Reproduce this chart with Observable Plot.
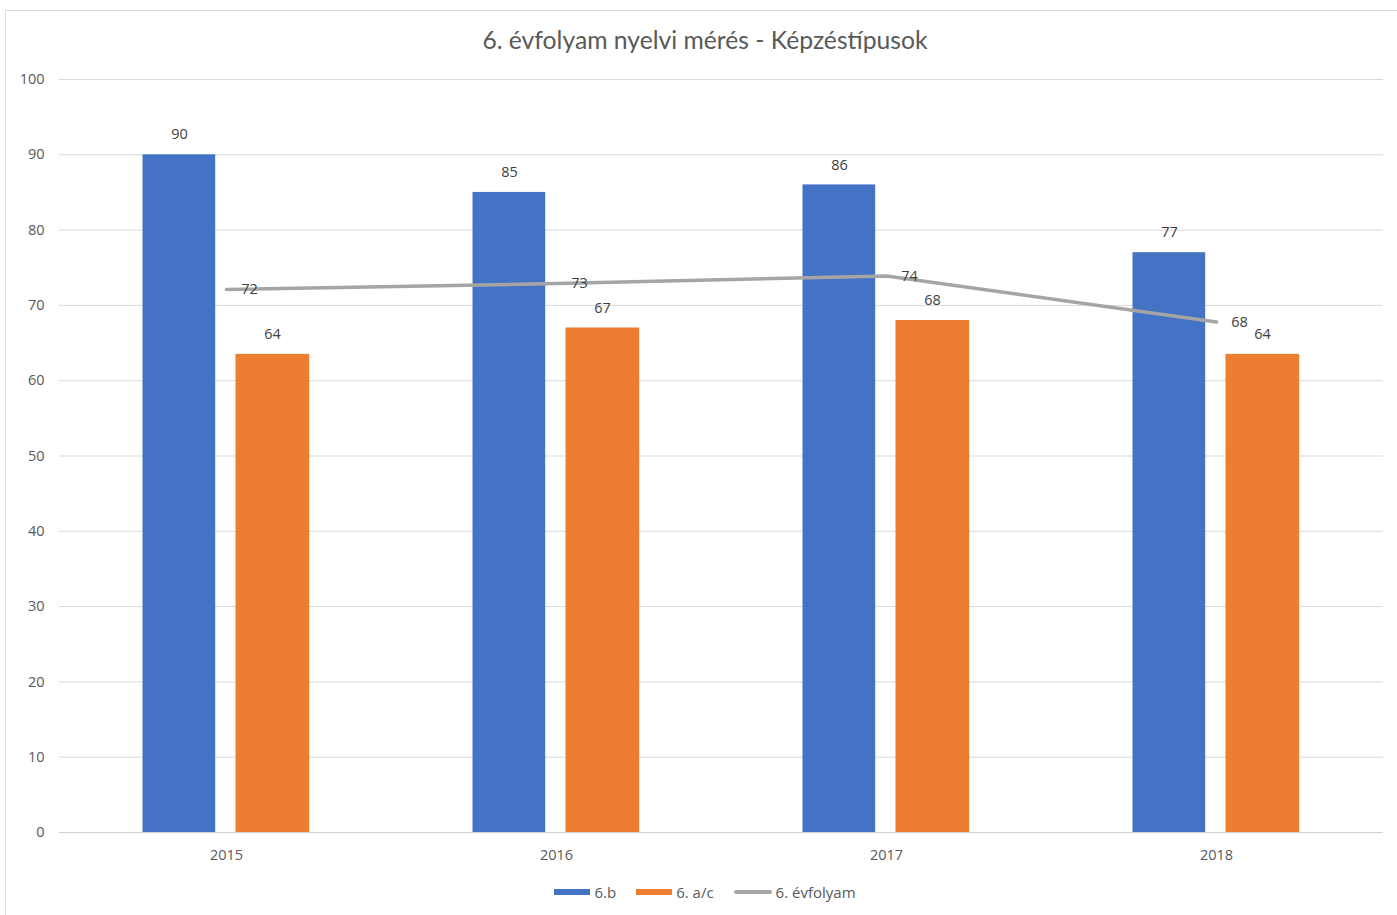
<!DOCTYPE html>
<html>
<head>
<meta charset="utf-8">
<script src="https://cdn.jsdelivr.net/npm/d3@7"></script>
<script src="https://cdn.jsdelivr.net/npm/@observablehq/plot@0.6"></script>
<style>
  html, body { margin: 0; padding: 0; background: #fff; overflow: hidden; }
  #frame { position: absolute; left: 5px; top: 10px; width: 1400px; height: 915px; border: 1px solid #d9d9d9; box-sizing: border-box; }
  #title { position: absolute; left: 0; width: 100%; top: 14px; text-align: center; font-family: Lato, "Open Sans", sans-serif; font-size: 24.7px; color: #595959; }
  #chart { position: absolute; left: 0; top: 50px; }
  #legend { position: absolute; left: 0; width: 100%; top: 871px; display: flex; justify-content: center; gap: 20px; font-family: "Open Sans", sans-serif; font-size: 15px; color: #595959; }
  .item { display: flex; align-items: center; gap: 4px; }
  .sw { width: 36px; height: 6px; }
  .ln { width: 38px; height: 4px; border-radius: 2px; }
</style>
</head>
<body>
<div id="frame">
  <div id="title">6. évfolyam nyelvi mérés - Képzéstípusok</div>
  <div id="chart"></div>
  <div id="legend"></div>
</div>
<script>
const years = ["2015", "2016", "2017", "2018"];
const seriesNames = ["6.b", "6. a/c", "6. évfolyam"];
const values6b = [90, 85, 86, 77];
const values6ac = [63.5, 67, 68, 63.5];
const valuesEvf = [72.1, 72.9, 73.9, 67.8];
const yTicks = [0, 10, 20, 30, 40, 50, 60, 70, 80, 90, 100];
const colors = ["#4472C4", "#ED7D31", "#A5A5A5"];

const dataB = years.map((y, i) => ({year: y, value: values6b[i]}));
const dataAC = years.map((y, i) => ({year: y, value: values6ac[i]}));
const dataE = years.map((y, i) => ({year: y, value: valuesEvf[i]}));

const fmt = d => String(Math.round(d.value));
const font = "'Open Sans', sans-serif";
const fs = 14.5;

const chart = Plot.plot({
  width: 1392,
  height: 815,
  marginLeft: 53,
  marginRight: 15,
  marginTop: 18,
  marginBottom: 44,
  style: {fontFamily: font, fontSize: fs + "px", color: "#595959", background: "transparent"},
  x: {domain: years, paddingInner: 0, paddingOuter: 0.0045, label: null},
  y: {domain: [0, 100], label: null},
  marks: [
    Plot.gridY(yTicks, {stroke: "#d9d9d9", strokeOpacity: 1, strokeWidth: 1}),
    Plot.ruleY([0], {stroke: "#d0d0d0", strokeWidth: 1.2}),
    Plot.axisY(yTicks, {tickSize: 0, tickPadding: 15, fill: "#595959", fontSize: fs}),
    Plot.axisX({tickSize: 0, tickPadding: 17, fill: "#595959", fontSize: fs}),
    Plot.barY(dataB, {x: "year", y: "value", fill: colors[0], insetLeft: 81.5, insetRight: 175.8}),
    Plot.barY(dataAC, {x: "year", y: "value", fill: colors[1], insetLeft: 174.5, insetRight: 81.8}),
    Plot.line(dataE, {x: "year", y: "value", stroke: colors[2], strokeWidth: 3.5, curve: "linear"}),
    Plot.text(dataB, {x: "year", y: "value", text: fmt, dx: -47, dy: -20, fill: "#404040", fontSize: fs}),
    Plot.text(dataAC, {x: "year", y: "value", text: fmt, dx: 46, dy: -20, fill: "#404040", fontSize: fs}),
    Plot.text(dataE, {x: "year", y: "value", text: fmt, dx: 23, dy: 0, fill: "#404040", fontSize: fs})
  ]
});
document.getElementById("chart").appendChild(chart);

const legend = document.getElementById("legend");
seriesNames.forEach((name, i) => {
  const item = document.createElement("div");
  item.className = "item";
  const sw = document.createElement("div");
  sw.className = i === 2 ? "ln" : "sw";
  sw.style.background = colors[i];
  const t = document.createElement("span");
  t.textContent = name;
  item.appendChild(sw);
  item.appendChild(t);
  legend.appendChild(item);
});
</script>
</body>
</html>
